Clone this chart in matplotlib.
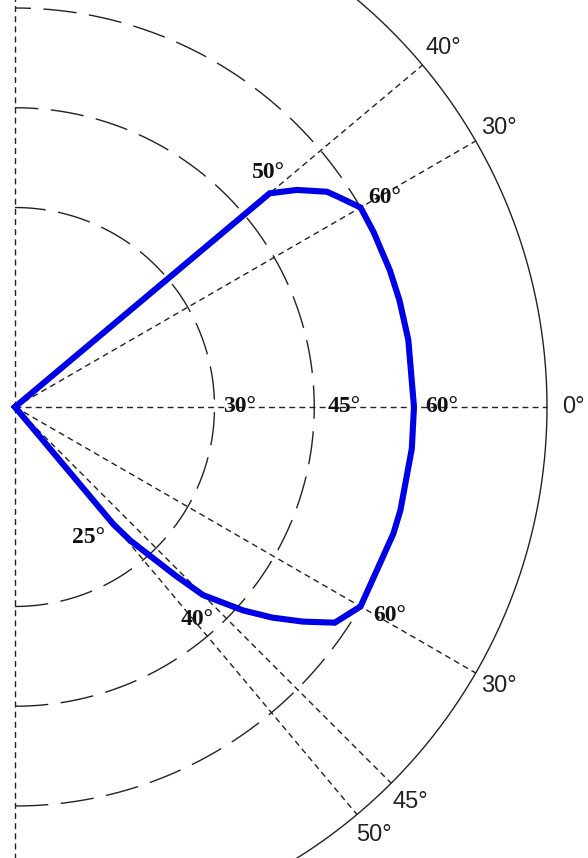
import matplotlib

matplotlib.use("Agg")
import matplotlib.pyplot as plt
import numpy as np

# viewing-angle curve: azimuth (deg) and viewing angle (deg, plotted as radius)
curve_azimuth = [40, 40, 37.6, 34.6, 33, 30, 26, 20, 15.5, 9.7, 0,
                 -6, -15, -18.5, -30, -34, -36.7, -39.3, -41.7, -45, -46.4, -49.2, -50, -50]
curve_radius = [0, 50, 53.5, 57, 58, 60, 60, 60, 60, 60, 60,
                60, 60, 60, 60, 58, 54, 50, 46, 40, 35, 26.5, 23, 0]

# grid
ring_radii = [30, 45, 60]
outer_radius = 80
spoke_azimuth = [90, 40, 30, 0, -30, -45, -50, -90]

# azimuth labels around the rim
rim_azimuth = [40, 30, 0, -30, -45, -50]
rim_labels = ["40°", "30°", "0°", "30°", "45°", "50°"]

# viewing-angle labels along the curve (azimuth, radius, text)
value_azimuth = [0, 0, 0, 42.7, 29.5, -60.4, -49.4, -29.1]
value_radius = [33.8, 49.5, 64.2, 51.9, 63.9, 22.5, 42.0, 64.4]
value_labels = ["30°", "45°", "60°", "50°", "60°", "25°", "40°", "60°"]


def polar_xy(az, r):
    az = np.radians(np.asarray(az, dtype=float))
    r = np.asarray(r, dtype=float)
    return r * np.cos(az), r * np.sin(az)


fig = plt.figure(figsize=(5.88, 8.58), dpi=100)
ax = fig.add_axes([0, 0, 1, 1])
ax.set_axis_off()

# pixel scale: centre at (15, 407), 6.65 px per degree
scale = 6.65
ax.set_xlim(-15 / scale, (588 - 15) / scale)
ax.set_ylim(-(858 - 407) / scale, 407 / scale)

theta = np.linspace(-90, 90, 721)
for r in ring_radii:
    x, y = polar_xy(theta, np.full_like(theta, r))
    ax.plot(x, y, color="#222222", lw=1.0, dashes=(24, 9))

x, y = polar_xy(theta, np.full_like(theta, outer_radius))
ax.plot(x, y, color="#222222", lw=1.0)

for az in spoke_azimuth:
    x, y = polar_xy([az, az], [0, outer_radius])
    ax.plot(x, y, color="#222222", lw=1.0, dashes=(4.3, 3))

x, y = polar_xy(curve_azimuth, curve_radius)
ax.plot(x, y, color="#0000e6", lw=4.4, solid_joinstyle="miter")

for az, text in zip(rim_azimuth, rim_labels):
    x, y = polar_xy(az, 84)
    ax.text(x, y, text, ha="center", va="center", fontsize=17,
            family="Liberation Sans", color="#222222")

for az, r, text in zip(value_azimuth, value_radius, value_labels):
    x, y = polar_xy(az, r)
    ax.text(x, y, text, ha="center", va="center", fontsize=17,
            family="Liberation Serif", fontweight="bold", color="#111111")

fig.savefig("out.png", dpi=100, facecolor="white")
